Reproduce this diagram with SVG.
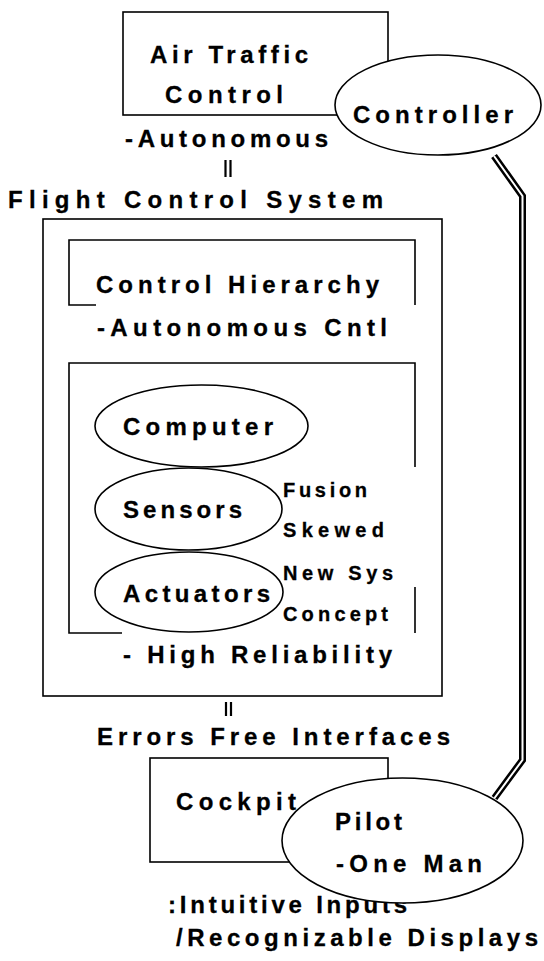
<svg xmlns="http://www.w3.org/2000/svg" width="544" height="961" viewBox="0 0 544 961">
<style>
.t{font-family:"Liberation Sans",Arial,sans-serif;font-weight:bold;font-size:24px;fill:#000;stroke:#000;stroke-width:0.3}
.s{font-size:20px}
.b{fill:none;stroke:#000;stroke-width:1.6}
.e{fill:#fff;stroke:#000;stroke-width:1.6}
</style>
<rect width="544" height="961" fill="#fff"/>
<g id="atc">
<rect class="b" x="123" y="12" width="265" height="103"/>
<text class="t" x="150" y="63" textLength="158" lengthAdjust="spacing">Air Traffic</text>
<text class="t" x="165" y="103" textLength="118" lengthAdjust="spacing">Control</text>
<text class="t" x="125" y="147" textLength="203" lengthAdjust="spacing">-Autonomous</text>
</g>
<g id="controller">
<ellipse class="e" cx="438" cy="105" rx="103" ry="50"/>
<text class="t" x="353" y="123" textLength="160" lengthAdjust="spacing">Controller</text>
</g>
<g id="fcs">
<text class="t" x="8" y="208" textLength="375" lengthAdjust="spacing">Flight Control System</text>
<rect class="b" x="43" y="219" width="399" height="477"/>
<text class="t" x="123" y="663" textLength="269" lengthAdjust="spacing">- High Reliability</text>
</g>
<g id="hierarchy">
<path class="b" d="M96,305 H69 V240 H415 V305"/>
<text class="t" x="96" y="293" textLength="283" lengthAdjust="spacing">Control Hierarchy</text>
<text class="t" x="97" y="336" textLength="290" lengthAdjust="spacing">-Autonomous Cntl</text>
</g>
<g id="subsystems">
<path class="b" d="M415,467 V363 H69 V633 H122 M415,587 V633"/>
<text class="t s" x="283" y="497" textLength="84" lengthAdjust="spacing">Fusion</text>
<text class="t s" x="283" y="537" textLength="101" lengthAdjust="spacing">Skewed</text>
<text class="t s" x="283" y="580" textLength="110" lengthAdjust="spacing">New Sys</text>
<text class="t s" x="283" y="621" textLength="105" lengthAdjust="spacing">Concept</text>
</g>
<g id="computer">
<ellipse class="e" cx="201.5" cy="426" rx="106.5" ry="41"/>
<text class="t" x="123" y="435" textLength="150" lengthAdjust="spacing">Computer</text>
</g>
<g id="sensors">
<ellipse class="e" cx="188.5" cy="509" rx="93.5" ry="41"/>
<text class="t" x="123" y="518" textLength="119" lengthAdjust="spacing">Sensors</text>
</g>
<g id="actuators">
<ellipse class="e" cx="189" cy="592" rx="94" ry="40"/>
<text class="t" x="123" y="602" textLength="147" lengthAdjust="spacing">Actuators</text>
</g>
<g id="interfaces">
<text class="t" x="97" y="745" textLength="353" lengthAdjust="spacing">Errors Free Interfaces</text>
</g>
<g id="cockpit">
<rect class="b" x="150" y="758" width="238" height="104"/>
<text class="t" x="176" y="810" textLength="120" lengthAdjust="spacing">Cockpit</text>
<text class="t" x="168" y="913" textLength="239" lengthAdjust="spacing">:Intuitive Inputs</text>
<text class="t" x="176" y="946" textLength="362" lengthAdjust="spacing">/Recognizable Displays</text>
</g>
<g id="pilot">
<ellipse class="e" cx="402.5" cy="840.5" rx="120.5" ry="62.5"/>
<text class="t" x="335" y="830" textLength="67" lengthAdjust="spacing">Pilot</text>
<text class="t" x="336" y="872" textLength="146" lengthAdjust="spacing">-One Man</text>
</g>
<g id="connectors">
<path d="M225.5,160 V177 M230.5,160 V177" stroke="#000" stroke-width="2.2" fill="none"/>
<path d="M226,702 V716 M231,702 V716" stroke="#000" stroke-width="2.2" fill="none"/>
<path d="M494,156 L522.5,196 V760 L494.5,798" fill="none" stroke="#000" stroke-width="7"/>
<path d="M494,156 L522.5,196 V760 L494.5,798" fill="none" stroke="#fff" stroke-width="2"/>
</g>
</svg>
